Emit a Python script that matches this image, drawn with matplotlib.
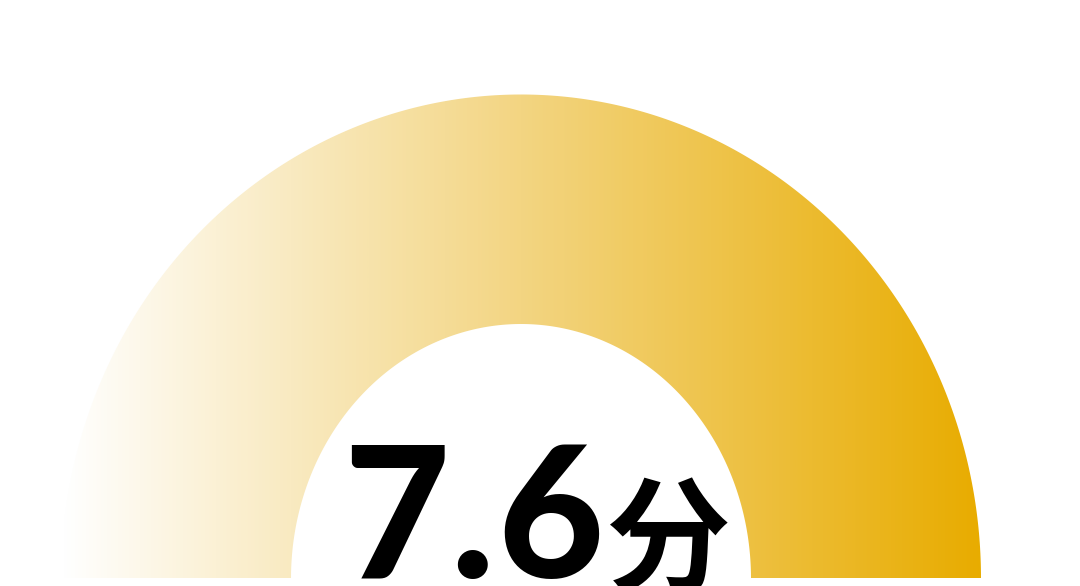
import numpy as np
import matplotlib
matplotlib.use("Agg")
import matplotlib.pyplot as plt
from matplotlib.path import Path
from matplotlib.patches import PathPatch
from matplotlib.colors import LinearSegmentedColormap

# Valores del gráfico
score_value = 7.6
score_unit = "分"
gradient_colors = ["#FFFFFF", "#F3D582", "#E8AC00"]

W, H = 1080, 586
fig = plt.figure(figsize=(W / 100, H / 100), dpi=100)
ax = fig.add_axes([0, 0, 1, 1])
ax.set_xlim(0, W)
ax.set_ylim(H, 0)
ax.axis("off")

# Geometría del arco (semi anillo)
cx, cy = 521, 578.5
rx_out, ry_out = 460, 484
rx_in, ry_in = 230, 254.5

t = np.linspace(np.pi, 0, 300)
outer = np.column_stack([cx + rx_out * np.cos(t), cy - ry_out * np.sin(t)])
inner = np.column_stack([cx + rx_in * np.cos(t[::-1]), cy - ry_in * np.sin(t[::-1])])
verts = np.vstack([outer, inner, outer[:1]])
codes = [Path.MOVETO] + [Path.LINETO] * (len(verts) - 2) + [Path.CLOSEPOLY]
ring = PathPatch(Path(verts, codes), facecolor="none", edgecolor="none")
ax.add_patch(ring)

# Degradado horizontal recortado por el anillo
cmap = LinearSegmentedColormap.from_list("oro", gradient_colors)
grad = np.linspace(0, 1, 512).reshape(1, -1)
img = ax.imshow(grad, cmap=cmap, aspect="auto",
                extent=(cx - rx_out, cx + rx_out, cy, cy - ry_out), zorder=1)
img.set_clip_path(ring)

# Texto del puntaje, cada caracter con su propio espacio
char_x = [396, 472, 550]
for ch, x in zip(f"{score_value}", char_x):
    ax.text(x, 578, ch, fontsize=132, fontweight="black",
            family=["Lato", "DejaVu Sans"], color="black",
            ha="center", va="baseline", zorder=3)
ax.text(606, 582, score_unit, fontsize=90, fontweight="bold",
        family=["Noto Sans CJK SC", "DejaVu Sans"], color="black",
        ha="left", va="baseline", zorder=3)

fig.savefig("out.png", dpi=100, facecolor="white")
plt.close(fig)
